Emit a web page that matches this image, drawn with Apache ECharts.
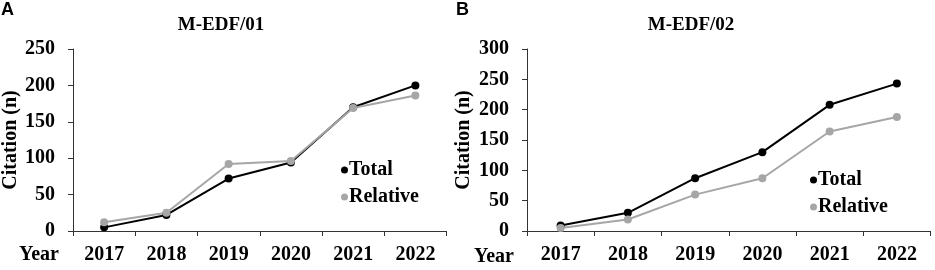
<!DOCTYPE html>
<html>
<head>
<meta charset="utf-8">
<script src="https://cdn.jsdelivr.net/npm/echarts@6/dist/echarts.min.js"></script>
<style>
html,body{margin:0;padding:0;background:#fff;}
#chart{width:935px;height:270px;}
</style>
</head>
<body>
<div id="chart"></div>
<script>
const years = ['2017','2018','2019','2020','2021','2022'];
const panelA_title = 'M-EDF/01';
const panelB_title = 'M-EDF/02';
const panelA_total = [5, 22, 72, 94, 170, 200];
const panelA_relative = [12, 25, 92, 96, 169, 186];
const panelB_total = [9, 30, 87, 130, 208, 243];
const panelB_relative = [5, 19, 60, 87, 164, 188];
const panelA_yTicks = {min: 0, max: 250, interval: 50};
const panelB_yTicks = {min: 0, max: 300, interval: 50};

const serif = "'Liberation Serif','Times New Roman',serif";
const cTotal = '#000000';
const cRel = '#a6a6a6';
const axisCol = '#333333';

function xAx(gi){
  return {
    type:'category', gridIndex:gi, data:years, boundaryGap:true,
    axisLine:{lineStyle:{color:axisCol,width:1}},
    axisTick:{show:true,length:5,alignWithLabel:false,lineStyle:{color:axisCol}},
    axisLabel:{fontFamily:serif,fontWeight:'bold',fontSize:20,color:'#000',margin:14},
    splitLine:{show:false}
  };
}
function yAx(gi, t, gap){
  return {
    type:'value', gridIndex:gi, min:t.min, max:t.max, interval:t.interval,
    name:'Citation (n)', nameLocation:'middle', nameRotate:90, nameGap:gap,
    nameTextStyle:{fontFamily:serif,fontWeight:'bold',fontSize:20,color:'#000'},
    axisLine:{show:true,lineStyle:{color:axisCol,width:1}},
    axisTick:{show:true,length:5,lineStyle:{color:axisCol}},
    axisLabel:{fontFamily:serif,fontWeight:'bold',fontSize:20,color:'#000',margin:18},
    splitLine:{show:false}
  };
}
function ser(name, data, color, gi){
  return {
    name:name, type:'line', xAxisIndex:gi, yAxisIndex:gi, data:data,
    symbol:'circle', symbolSize:8, showSymbol:true,
    lineStyle:{color:color,width:2}, itemStyle:{color:color},
    animation:false
  };
}
function leg(left, top){
  return {
    orient:'vertical', left:left, top:top, itemGap:7,
    icon:'circle', itemWidth:7, itemHeight:7,
    data:['Total','Relative'],
    textStyle:{fontFamily:serif,fontWeight:'bold',fontSize:20,color:'#000',padding:[0,0,0,-4]}
  };
}
const titleStyle = {fontFamily:serif,fontWeight:'bold',fontSize:19,color:'#000'};
const yearStyle = {fontFamily:serif,fontWeight:'bold',fontSize:20,color:'#000'};
const letterStyle = {fontFamily:"'Liberation Sans',Arial,sans-serif",fontWeight:'bold',fontSize:18,color:'#000'};

const chart = echarts.init(document.getElementById('chart'), null, {renderer:'canvas'});
chart.setOption({
  animation:false,
  backgroundColor:'#fff',
  title:[
    {text:'A', left:1, top:1, padding:0, textStyle:letterStyle},
    {text:'B', left:456, top:1, padding:0, textStyle:letterStyle},
    {text:panelA_title, left:221, top:16, padding:0, textAlign:'center', textStyle:titleStyle},
    {text:panelB_title, left:691, top:16, padding:0, textAlign:'center', textStyle:titleStyle},
    {text:'Year', left:19, top:245, padding:0, textStyle:yearStyle},
    {text:'Year', left:474, top:247, padding:0, textStyle:yearStyle}
  ],
  legend:[leg(336,155), leg(805,165)],
  grid:[
    {left:72, top:49, width:374.5, height:182, containLabel:false},
    {left:527, top:49, width:403.5, height:182, containLabel:false}
  ],
  xAxis:[xAx(0), xAx(1)],
  yAxis:[yAx(0, panelA_yTicks, 52), yAx(1, panelB_yTicks, 53)],
  series:[
    ser('Total', panelA_total, cTotal, 0),
    ser('Relative', panelA_relative, cRel, 0),
    ser('Total', panelB_total, cTotal, 1),
    ser('Relative', panelB_relative, cRel, 1)
  ]
});
</script>
</body>
</html>
